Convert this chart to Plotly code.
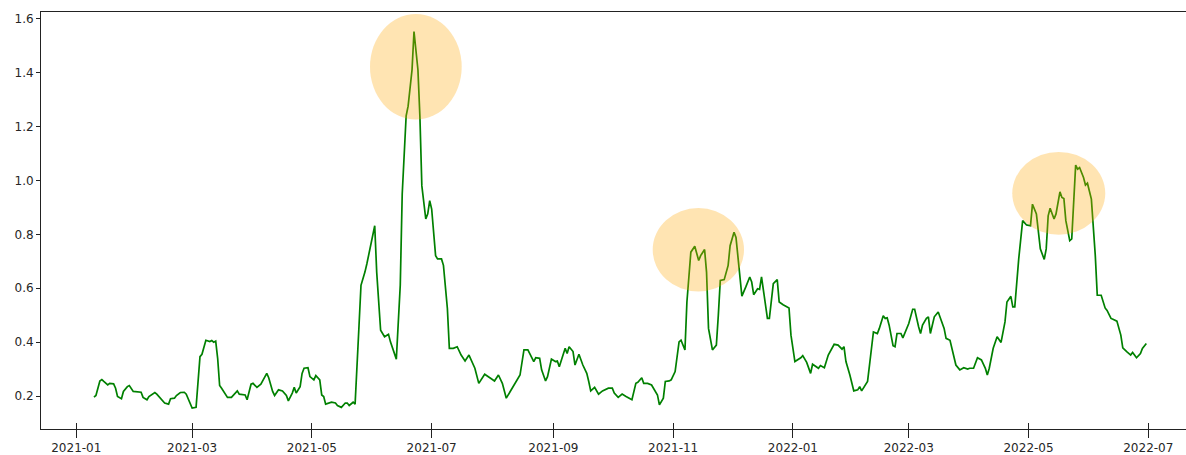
import plotly.graph_objects as go

# Daily index readings, 2021-01 to 2022-06
dates = [
    "2021-01-10", "2021-01-11", "2021-01-13", "2021-01-14", "2021-01-15", "2021-01-17", "2021-01-18",
    "2021-01-20", "2021-01-21", "2021-01-22", "2021-01-24", "2021-01-25", "2021-01-27", "2021-01-28",
    "2021-01-30", "2021-02-02", "2021-02-03", "2021-02-04", "2021-02-06", "2021-02-07", "2021-02-10",
    "2021-02-11", "2021-02-13", "2021-02-15", "2021-02-17", "2021-02-18", "2021-02-20", "2021-02-21",
    "2021-02-23", "2021-02-25", "2021-02-26", "2021-02-28", "2021-03-01", "2021-03-03", "2021-03-05",
    "2021-03-06", "2021-03-08", "2021-03-10", "2021-03-11", "2021-03-12", "2021-03-13", "2021-03-14",
    "2021-03-15", "2021-03-16", "2021-03-19", "2021-03-21", "2021-03-24", "2021-03-25", "2021-03-28",
    "2021-03-29", "2021-03-31", "2021-04-01", "2021-04-03", "2021-04-05", "2021-04-08", "2021-04-09",
    "2021-04-11", "2021-04-12", "2021-04-14", "2021-04-16", "2021-04-18", "2021-04-19", "2021-04-21",
    "2021-04-22", "2021-04-23", "2021-04-25", "2021-04-26", "2021-04-27", "2021-04-29", "2021-04-30",
    "2021-05-02", "2021-05-03", "2021-05-05", "2021-05-06", "2021-05-07", "2021-05-08", "2021-05-11",
    "2021-05-13", "2021-05-14", "2021-05-16", "2021-05-18", "2021-05-19", "2021-05-20", "2021-05-22",
    "2021-05-23", "2021-05-25", "2021-05-26", "2021-05-28", "2021-05-29", "2021-06-02", "2021-06-03",
    "2021-06-05", "2021-06-07", "2021-06-09", "2021-06-10", "2021-06-13", "2021-06-15", "2021-06-16",
    "2021-06-18", "2021-06-19", "2021-06-21", "2021-06-22", "2021-06-24", "2021-06-25", "2021-06-26",
    "2021-06-28", "2021-06-29", "2021-06-30", "2021-07-01", "2021-07-03", "2021-07-04", "2021-07-06",
    "2021-07-07", "2021-07-09", "2021-07-10", "2021-07-12", "2021-07-14", "2021-07-16", "2021-07-18",
    "2021-07-20", "2021-07-21", "2021-07-23", "2021-07-25", "2021-07-26", "2021-07-28", "2021-07-31",
    "2021-08-02", "2021-08-04", "2021-08-06", "2021-08-08", "2021-08-11", "2021-08-13", "2021-08-15",
    "2021-08-17", "2021-08-19", "2021-08-22", "2021-08-23", "2021-08-25", "2021-08-26", "2021-08-28",
    "2021-08-29", "2021-08-31", "2021-09-02", "2021-09-03", "2021-09-04", "2021-09-07", "2021-09-08",
    "2021-09-09", "2021-09-11", "2021-09-12", "2021-09-14", "2021-09-16", "2021-09-18", "2021-09-19",
    "2021-09-20", "2021-09-22", "2021-09-24", "2021-09-26", "2021-09-29", "2021-10-01", "2021-10-02",
    "2021-10-04", "2021-10-06", "2021-10-08", "2021-10-11", "2021-10-13", "2021-10-14", "2021-10-16",
    "2021-10-17", "2021-10-19", "2021-10-21", "2021-10-24", "2021-10-25", "2021-10-27", "2021-10-28",
    "2021-10-30", "2021-10-31", "2021-11-02", "2021-11-04", "2021-11-05", "2021-11-07", "2021-11-08",
    "2021-11-10", "2021-11-12", "2021-11-14", "2021-11-15", "2021-11-17", "2021-11-18", "2021-11-19",
    "2021-11-21", "2021-11-23", "2021-11-24", "2021-11-25", "2021-11-27", "2021-11-29", "2021-11-30",
    "2021-12-02", "2021-12-03", "2021-12-06", "2021-12-08", "2021-12-10", "2021-12-11", "2021-12-12",
    "2021-12-14", "2021-12-15", "2021-12-16", "2021-12-17", "2021-12-19", "2021-12-20", "2021-12-22",
    "2021-12-24", "2021-12-25", "2021-12-27", "2021-12-29", "2021-12-30", "2021-12-31", "2022-01-02",
    "2022-01-05", "2022-01-06", "2022-01-08", "2022-01-10", "2022-01-11", "2022-01-12", "2022-01-14",
    "2022-01-15", "2022-01-17", "2022-01-19", "2022-01-20", "2022-01-22", "2022-01-24", "2022-01-26",
    "2022-01-27", "2022-01-28", "2022-01-30", "2022-02-01", "2022-02-03", "2022-02-04", "2022-02-05",
    "2022-02-08", "2022-02-09", "2022-02-11", "2022-02-13", "2022-02-14", "2022-02-16", "2022-02-17",
    "2022-02-18", "2022-02-19", "2022-02-21", "2022-02-22", "2022-02-23", "2022-02-25", "2022-02-26",
    "2022-02-27", "2022-03-01", "2022-03-03", "2022-03-04", "2022-03-06", "2022-03-07", "2022-03-08",
    "2022-03-10", "2022-03-11", "2022-03-12", "2022-03-14", "2022-03-16", "2022-03-19", "2022-03-20",
    "2022-03-22", "2022-03-24", "2022-03-25", "2022-03-27", "2022-03-29", "2022-03-31", "2022-04-01",
    "2022-04-03", "2022-04-05", "2022-04-07", "2022-04-09", "2022-04-10", "2022-04-11", "2022-04-13",
    "2022-04-15", "2022-04-17", "2022-04-19", "2022-04-20", "2022-04-22", "2022-04-23", "2022-04-24",
    "2022-04-26", "2022-04-28", "2022-04-30", "2022-05-02", "2022-05-03", "2022-05-05", "2022-05-07",
    "2022-05-09", "2022-05-10", "2022-05-11", "2022-05-12", "2022-05-14", "2022-05-15", "2022-05-17",
    "2022-05-18", "2022-05-19", "2022-05-20", "2022-05-22", "2022-05-23", "2022-05-24", "2022-05-25",
    "2022-05-26", "2022-05-27", "2022-05-29", "2022-05-30", "2022-05-31", "2022-06-02", "2022-06-04",
    "2022-06-05", "2022-06-07", "2022-06-09", "2022-06-10", "2022-06-12", "2022-06-13", "2022-06-15",
    "2022-06-17", "2022-06-18", "2022-06-20", "2022-06-22", "2022-06-23", "2022-06-25", "2022-06-27",
    "2022-06-28", "2022-06-30",
]

values = [
    0.196, 0.202, 0.256, 0.261, 0.254, 0.241, 0.247,
    0.245, 0.229, 0.198, 0.190, 0.217, 0.235, 0.239,
    0.217, 0.213, 0.214, 0.195, 0.186, 0.198, 0.213,
    0.207, 0.190, 0.174, 0.170, 0.190, 0.192, 0.202,
    0.213, 0.214, 0.207, 0.174, 0.155, 0.158, 0.346,
    0.355, 0.407, 0.402, 0.406, 0.400, 0.404, 0.340,
    0.239, 0.229, 0.195, 0.195, 0.219, 0.207, 0.204,
    0.186, 0.244, 0.247, 0.232, 0.244, 0.284, 0.268,
    0.217, 0.202, 0.223, 0.219, 0.202, 0.182, 0.211,
    0.232, 0.211, 0.235, 0.284, 0.303, 0.305, 0.272,
    0.260, 0.276, 0.260, 0.204, 0.198, 0.170, 0.177,
    0.174, 0.165, 0.158, 0.174, 0.174, 0.165, 0.177,
    0.170, 0.463, 0.611, 0.660, 0.691, 0.832, 0.660,
    0.444, 0.420, 0.429, 0.401, 0.337, 0.611, 0.950,
    1.240, 1.276, 1.411, 1.553, 1.411, 1.239, 0.980,
    0.857, 0.876, 0.925, 0.894, 0.721, 0.709, 0.709,
    0.685, 0.525, 0.377, 0.377, 0.383, 0.352, 0.330,
    0.352, 0.337, 0.303, 0.247, 0.260, 0.281, 0.266,
    0.256, 0.278, 0.247, 0.192, 0.229, 0.254, 0.278,
    0.371, 0.371, 0.328, 0.342, 0.340, 0.297, 0.256,
    0.272, 0.337, 0.328, 0.330, 0.309, 0.377, 0.358,
    0.383, 0.365, 0.315, 0.355, 0.315, 0.284, 0.254,
    0.219, 0.232, 0.207, 0.219, 0.229, 0.229, 0.211,
    0.195, 0.207, 0.198, 0.186, 0.247, 0.251, 0.268,
    0.247, 0.247, 0.241, 0.204, 0.167, 0.192, 0.254,
    0.256, 0.260, 0.291, 0.401, 0.407, 0.371, 0.549,
    0.734, 0.756, 0.703, 0.721, 0.744, 0.660, 0.451,
    0.371, 0.389, 0.500, 0.629, 0.632, 0.685, 0.758,
    0.808, 0.789, 0.571, 0.605, 0.642, 0.623, 0.576,
    0.598, 0.596, 0.642, 0.586, 0.488, 0.488, 0.617,
    0.632, 0.549, 0.539, 0.531, 0.527, 0.426, 0.328,
    0.342, 0.350, 0.325, 0.284, 0.318, 0.313, 0.303,
    0.313, 0.305, 0.352, 0.367, 0.392, 0.389, 0.374,
    0.383, 0.328, 0.278, 0.219, 0.223, 0.235, 0.219,
    0.254, 0.315, 0.438, 0.432, 0.451, 0.498, 0.488,
    0.490, 0.463, 0.387, 0.383, 0.432, 0.432, 0.416,
    0.432, 0.469, 0.522, 0.522, 0.457, 0.432, 0.463,
    0.488, 0.494, 0.432, 0.494, 0.512, 0.451, 0.414,
    0.407, 0.346, 0.315, 0.297, 0.305, 0.300, 0.303,
    0.303, 0.342, 0.334, 0.303, 0.278, 0.303, 0.377,
    0.420, 0.399, 0.475, 0.549, 0.570, 0.531, 0.531,
    0.709, 0.851, 0.835, 0.832, 0.912, 0.876, 0.746,
    0.707, 0.746, 0.869, 0.897, 0.857, 0.876, 0.958,
    0.937, 0.933, 0.851, 0.777, 0.783, 0.931, 1.057,
    1.042, 1.048, 1.011, 0.983, 0.990, 0.931, 0.721,
    0.574, 0.574, 0.527, 0.518, 0.488, 0.485, 0.478,
    0.426, 0.379, 0.365, 0.352, 0.362, 0.342, 0.358,
    0.377, 0.395,
]

# Highlighted episodes: (start, end, low, high)
highlight_start = ["2021-05-30 14:00", "2021-10-21 14:00", "2022-04-22 17:00"]
highlight_end = ["2021-07-16 07:00", "2021-12-07 02:00", "2022-06-09 02:00"]
highlight_low = [1.226, 0.588, 0.799]
highlight_high = [1.618, 0.898, 1.106]

y_ticks = [0.2, 0.4, 0.6, 0.8, 1.0, 1.2, 1.4, 1.6]

LINE_COLOR = "#008000"
AXIS_COLOR = "#222222"
FONT = dict(family="DejaVu Sans, sans-serif", size=12, color="#262626")

fig = go.Figure()

fig.add_trace(go.Scatter(
    x=dates, y=values, mode="lines",
    line=dict(color=LINE_COLOR, width=1.7),
    showlegend=False, hoverinfo="x+y",
))

# companion trace that carries the inward half of the date ticks
fig.add_trace(go.Scatter(
    x=dates, y=values, mode="lines", xaxis="x2",
    line=dict(color="rgba(0,0,0,0)", width=0),
    showlegend=False, hoverinfo="skip",
))

for x0, x1, y0, y1 in zip(highlight_start, highlight_end, highlight_low, highlight_high):
    fig.add_shape(
        type="circle", xref="x", yref="y",
        x0=x0, x1=x1, y0=y0, y1=y1,
        fillcolor="rgba(255,165,0,0.3)", line=dict(width=0),
        layer="above",
    )

x_range = ["2020-12-14 00:29", "2022-07-20 04:48"]

fig.update_layout(
    width=1186, height=455,
    margin=dict(l=41, r=0, t=12, b=24),
    paper_bgcolor="white", plot_bgcolor="white",
    font=FONT,
    xaxis=dict(
        type="date", range=x_range,
        tick0="2021-01-01", dtick="M2", tickformat="%Y-%m",
        ticks="outside", ticklen=8, tickwidth=1, tickcolor=AXIS_COLOR,
        showline=True, linecolor=AXIS_COLOR, linewidth=1, mirror=True,
        showgrid=False, zeroline=False,
        tickfont=FONT,
    ),
    xaxis2=dict(
        type="date", overlaying="x", matches="x", anchor="y", side="bottom",
        tick0="2021-01-01", dtick="M2",
        ticks="inside", ticklen=6, tickwidth=1, tickcolor=AXIS_COLOR,
        showticklabels=False, showline=False, showgrid=False, zeroline=False,
    ),
    yaxis=dict(
        range=[0.0776, 1.6254],
        tickvals=y_ticks, ticktext=[f"{v:.1f}" for v in y_ticks],
        ticks="outside", ticklen=4, tickwidth=1, tickcolor=AXIS_COLOR,
        showline=True, linecolor=AXIS_COLOR, linewidth=1, mirror=False,
        showgrid=False, zeroline=False,
        tickfont=FONT,
    ),
)

fig.write_html("out.html")
